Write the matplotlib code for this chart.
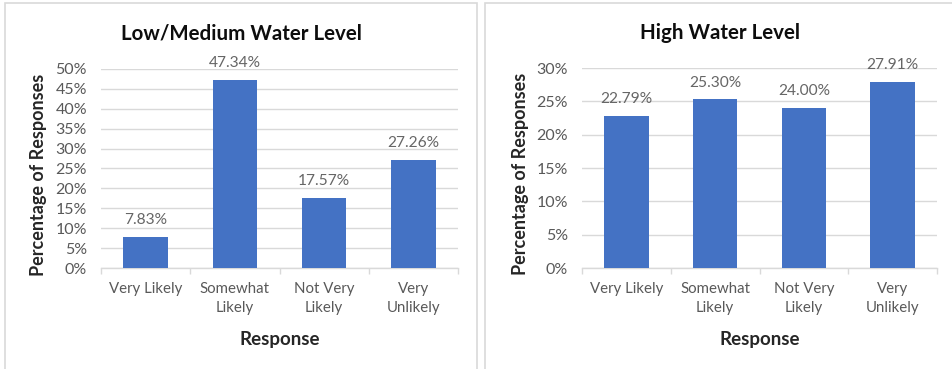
import matplotlib.pyplot as plt
from matplotlib.patches import Rectangle
from matplotlib.ticker import FuncFormatter, FixedLocator

plt.rcParams['font.family'] = ['Lato', 'DejaVu Sans']

categories = ["Very Likely", "Somewhat\nLikely", "Not Very\nLikely", "Very\nUnlikely"]
low_medium = [7.83, 47.34, 17.57, 27.26]
high = [22.79, 25.30, 24.00, 27.91]

BAR_COLOR = "#4472C4"
GRID_COLOR = "#D9D9D9"
TEXT_GRAY = "#595959"

W, H = 952, 369
fig = plt.figure(figsize=(W / 100, H / 100), dpi=100)


def px_box(x0, y0, x1, y1):
    # pixel box (top-left origin) -> figure fraction [left, bottom, width, height]
    return [x0 / W, 1 - y1 / H, (x1 - x0) / W, (y1 - y0) / H]


# chart frames
for x0, x1 in [(4.5, 476.5), (485, 960)]:
    fig.patches.append(Rectangle((x0 / W, -0.05), (x1 - x0) / W, 1 - 3 / H + 0.05,
                                 transform=fig.transFigure, fill=False,
                                 edgecolor=GRID_COLOR, linewidth=1.2))


def draw_panel(box, values, ymax, title, title_x):
    ax = fig.add_axes(px_box(*box))
    x = range(len(values))
    bars = ax.bar(x, values, width=0.5, color=BAR_COLOR, zorder=3)
    for b, v in zip(bars, values):
        ax.annotate(f"{v:.2f}%", (b.get_x() + b.get_width() / 2, v),
                    xytext=(0, 12), textcoords="offset points",
                    ha="center", va="center", fontsize=11.2, color="#666666")
    ax.set_xlim(-0.5, len(values) - 0.5)
    ax.set_ylim(0, ymax)
    ax.set_yticks(range(0, ymax + 1, 5))
    ax.yaxis.set_major_formatter(FuncFormatter(lambda v, _: f"{v:.0f}%"))
    ax.grid(axis="y", color=GRID_COLOR, linewidth=1, zorder=0)
    for s in ["top", "right", "left"]:
        ax.spines[s].set_visible(False)
    ax.spines["bottom"].set_color(GRID_COLOR)
    ax.spines["bottom"].set_linewidth(1)
    ax.set_xticks(list(x))
    ax.set_xticklabels(categories, fontsize=10.8, color=TEXT_GRAY, linespacing=1.45)
    ax.tick_params(axis="x", length=0, pad=10)
    ax.xaxis.set_minor_locator(FixedLocator([i - 0.5 for i in range(len(values) + 1)]))
    ax.tick_params(axis="x", which="minor", length=4, color=GRID_COLOR, width=1)
    ax.tick_params(axis="y", length=0, pad=10, labelsize=11.5, labelcolor=TEXT_GRAY)
    ax.set_ylabel("Percentage of Responses", fontsize=13, fontweight="bold", color="#262626")
    ax.yaxis.set_label_coords(-0.15, 0.47)
    ax.set_xlabel("Response", fontsize=13.5, fontweight="bold", color="#262626")
    ax.xaxis.set_label_coords(0.5, -0.315)
    fig.text(title_x / W, 1 - 33 / H, title, ha="center", va="center",
             fontsize=14.8, fontweight="bold", color="#0D0D0D")
    return ax


draw_panel((101, 69, 458, 268), low_medium, 50, "Low/Medium Water Level", 241)
draw_panel((582, 68, 937, 268), high, 30, "High Water Level", 720)

fig.savefig("out.png", dpi=100)
